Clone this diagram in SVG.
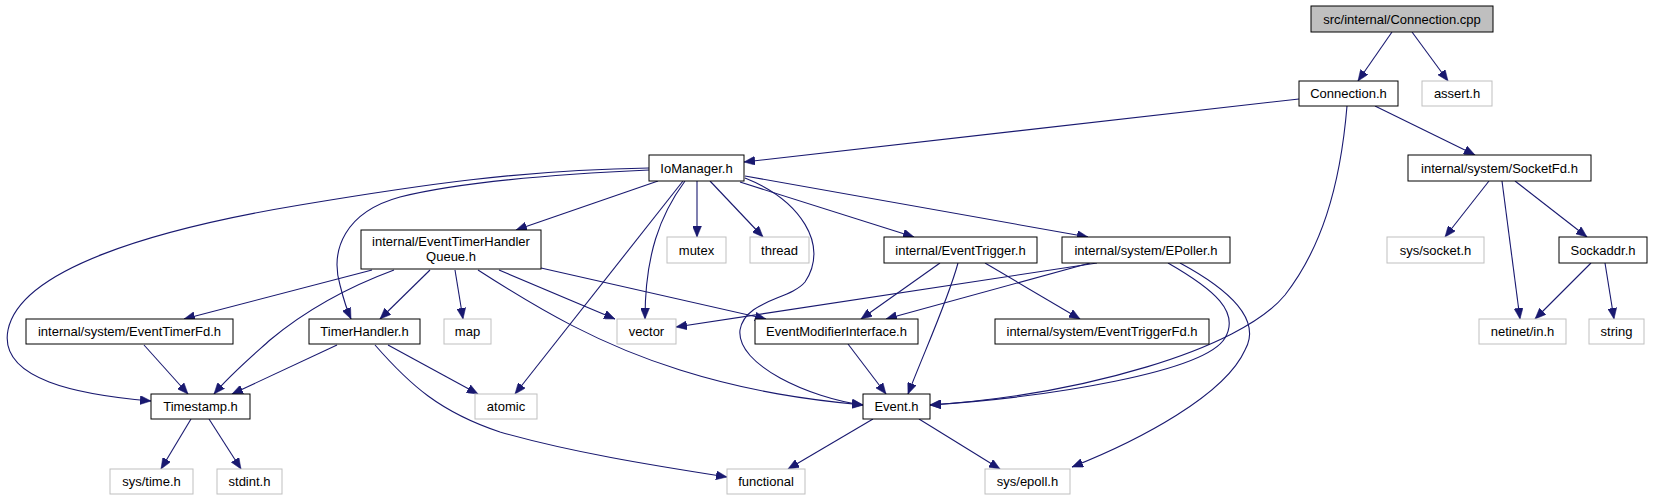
<svg xmlns="http://www.w3.org/2000/svg" width="1653" height="500" viewBox="0 0 1653 500">
<style>
.n rect{fill:#fff;stroke:#000;stroke-width:1}
.g rect{fill:#fff;stroke:#bfbfbf;stroke-width:1}
.root rect{fill:#bfbfbf;stroke:#000;stroke-width:1}
text{font-family:"Liberation Sans",Arial,sans-serif;font-size:13px;fill:#000;text-anchor:middle}
#edges path{fill:none;stroke:#191970;stroke-width:1.1;marker-end:url(#arr)}
</style>
<defs>
<marker id="arr" markerUnits="userSpaceOnUse" markerWidth="12" markerHeight="9" refX="11" refY="4.5" orient="auto">
<path d="M0,0 L11,4.5 L0,9 z" fill="#191970" stroke="#191970" stroke-width="0.5"/>
</marker>
</defs>
<rect width="1653" height="500" fill="#fff"/>
<g id="edges">
<path d="M1392,32 L1358,81"/>
<path d="M1412,32 L1448,81"/>
<path d="M1299,99 L744,162"/>
<path d="M1347,106 C1340,190 1320,250 1285,295 C1240,350 1080,395 930,405"/>
<path d="M1375,106 L1475,155"/>
<path d="M649,168 C520,170 420,185 300,205 C150,230 20,270 8,330 C-2,380 80,395 151,401"/>
<path d="M649,170 C560,174 460,182 400,197 C345,212 330,250 340,285 C343,297 346,308 351,319"/>
<path d="M658,181 L516,230"/>
<path d="M683,181 L515,394"/>
<path d="M685,181 C660,215 645,255 645,319"/>
<path d="M697,181 L697,237"/>
<path d="M710,181 L763,237"/>
<path d="M745,178 C800,200 830,245 805,282 C790,300 745,300 740,330 C736,365 810,398 863,405"/>
<path d="M740,182 L914,237"/>
<path d="M745,176 L1088,237"/>
<path d="M372,270 L184,319"/>
<path d="M394,270 C340,290 300,315 270,340 C250,358 230,375 214,394"/>
<path d="M430,270 L380,319"/>
<path d="M455,270 L463,319"/>
<path d="M478,270 C540,310 600,345 680,370 C750,392 810,400 863,405"/>
<path d="M499,270 L615,319"/>
<path d="M541,268 L766,319"/>
<path d="M144,345 L188,394"/>
<path d="M337,345 L232,394"/>
<path d="M388,345 L478,394"/>
<path d="M375,345 C410,385 440,412 500,432 C570,452 650,465 727,477"/>
<path d="M191,419 L161,469"/>
<path d="M209,419 L241,469"/>
<path d="M940,263 L861,319"/>
<path d="M958,263 C948,300 925,350 908,394"/>
<path d="M985,263 L1080,319"/>
<path d="M1097,263 L676,327"/>
<path d="M1090,263 L886,319"/>
<path d="M1168,263 C1215,290 1240,312 1225,338 C1205,372 1050,397 930,405"/>
<path d="M1180,263 C1230,290 1262,320 1245,350 C1225,395 1140,440 1072,467"/>
<path d="M848,344 L886,394"/>
<path d="M873,419 L788,469"/>
<path d="M919,419 L1000,469"/>
<path d="M1489,181 L1445,237"/>
<path d="M1502,181 L1520,319"/>
<path d="M1515,181 L1587,237"/>
<path d="M1591,263 L1535,319"/>
<path d="M1605,263 L1614,319"/>
</g>
<g id="n_cpp" class="root"><rect x="1311" y="6" width="182" height="26"/><text x="1402" y="23.5">src/internal/Connection.cpp</text></g>
<g id="n_connection" class="n"><rect x="1299" y="81" width="99" height="25"/><text x="1348.5" y="98">Connection.h</text></g>
<g id="n_assert" class="g"><rect x="1422" y="81" width="70" height="25"/><text x="1457" y="98">assert.h</text></g>
<g id="n_iomanager" class="n"><rect x="649" y="155" width="95" height="26"/><text x="696.5" y="172.5">IoManager.h</text></g>
<g id="n_socketfd" class="n"><rect x="1408" y="155" width="183" height="26"/><text x="1499.5" y="172.5">internal/system/SocketFd.h</text></g>
<g id="n_etq" class="n"><rect x="361" y="230" width="180" height="39"/><text x="451" y="246">internal/EventTimerHandler</text><text x="451" y="261">Queue.h</text></g>
<g id="n_mutex" class="g"><rect x="667" y="237" width="59" height="26"/><text x="696.5" y="254.5">mutex</text></g>
<g id="n_thread" class="g"><rect x="750" y="237" width="59" height="26"/><text x="779.5" y="254.5">thread</text></g>
<g id="n_eventtrigger" class="n"><rect x="884" y="237" width="153" height="26"/><text x="960.5" y="254.5">internal/EventTrigger.h</text></g>
<g id="n_epoller" class="n"><rect x="1062" y="237" width="168" height="26"/><text x="1146" y="254.5">internal/system/EPoller.h</text></g>
<g id="n_syssocket" class="g"><rect x="1387" y="237" width="97" height="26"/><text x="1435.5" y="254.5">sys/socket.h</text></g>
<g id="n_sockaddr" class="n"><rect x="1559" y="237" width="88" height="26"/><text x="1603" y="254.5">Sockaddr.h</text></g>
<g id="n_eventtimerfd" class="n"><rect x="26" y="319" width="207" height="25"/><text x="129.5" y="336">internal/system/EventTimerFd.h</text></g>
<g id="n_timerhandler" class="n"><rect x="309" y="319" width="111" height="25"/><text x="364.5" y="336">TimerHandler.h</text></g>
<g id="n_map" class="g"><rect x="444" y="319" width="47" height="25"/><text x="467.5" y="336">map</text></g>
<g id="n_vector" class="g"><rect x="617" y="319" width="59" height="25"/><text x="646.5" y="336">vector</text></g>
<g id="n_emi" class="n"><rect x="755" y="319" width="163" height="25"/><text x="836.5" y="336">EventModifierInterface.h</text></g>
<g id="n_eventtriggerfd" class="n"><rect x="995" y="319" width="214" height="25"/><text x="1102" y="336">internal/system/EventTriggerFd.h</text></g>
<g id="n_netinet" class="g"><rect x="1479" y="319" width="87" height="25"/><text x="1522.5" y="336">netinet/in.h</text></g>
<g id="n_string" class="g"><rect x="1589" y="319" width="55" height="25"/><text x="1616.5" y="336">string</text></g>
<g id="n_timestamp" class="n"><rect x="151" y="394" width="99" height="25"/><text x="200.5" y="411">Timestamp.h</text></g>
<g id="n_atomic" class="g"><rect x="475" y="394" width="62" height="25"/><text x="506" y="411">atomic</text></g>
<g id="n_event" class="n"><rect x="863" y="394" width="67" height="25"/><text x="896.5" y="411">Event.h</text></g>
<g id="n_systime" class="g"><rect x="110" y="469" width="83" height="25"/><text x="151.5" y="486">sys/time.h</text></g>
<g id="n_stdint" class="g"><rect x="217" y="469" width="65" height="25"/><text x="249.5" y="486">stdint.h</text></g>
<g id="n_functional" class="g"><rect x="727" y="469" width="78" height="25"/><text x="766" y="486">functional</text></g>
<g id="n_sysepoll" class="g"><rect x="985" y="469" width="85" height="25"/><text x="1027.5" y="486">sys/epoll.h</text></g>
</svg>
